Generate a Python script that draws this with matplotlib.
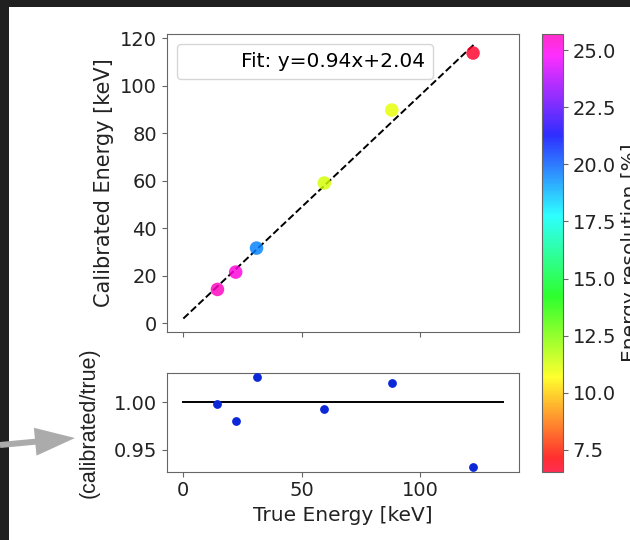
"""Energy calibration plot: calibrated vs true energy, ratio panel, resolution colorbar."""

import matplotlib
matplotlib.use("Agg")
import matplotlib.pyplot as plt
from matplotlib.patches import Rectangle, FancyArrow
import numpy as np

# values
true_energy = np.array([14.4, 22.1, 30.9, 59.5, 88.0, 122.3])
calibrated = np.array([14.3, 21.6, 31.7, 59.1, 89.8, 113.8])
ratio = np.array([0.998, 0.980, 1.027, 0.993, 1.0205, 0.932])
resolution = np.array([25.7, 25.3, 19.5, 11.3, 11.0, 6.55])

fit_slope, fit_icpt = 0.94, 2.04
fit_x = np.array([0.0, 122.5])
unity_x = np.array([0.0, 135.0])

plt.rcParams.update({
    "font.family": "DejaVu Sans",
    "font.size": 14,
    "axes.edgecolor": "#666666",
    "xtick.color": "#666666",
    "ytick.color": "#666666",
    "xtick.labelcolor": "#222222",
    "ytick.labelcolor": "#222222",
})

fig = plt.figure(figsize=(6.3, 5.4), dpi=100)

ax = fig.add_axes([0.2643, 0.3857, 0.5603, 0.5513])
axr = fig.add_axes([0.2643, 0.1265, 0.5603, 0.1833])
cax = fig.add_axes([0.8598, 0.1265, 0.0333, 0.8105])

sc = ax.scatter(true_energy, calibrated, c=resolution, cmap="gist_rainbow",
                vmin=resolution.min(), vmax=resolution.max(),
                s=95, alpha=0.82, edgecolors="none", zorder=3)
ax.plot(fit_x, fit_slope * fit_x + fit_icpt, "k--", lw=1.4, zorder=2)
ax.plot([], [], " ", label=f"Fit: y={fit_slope:.2f}x+{fit_icpt:.2f}")
ax.legend(loc="upper left", fontsize=14.5)
ax.set_xlim(-7.1, 141.9)
ax.set_ylim(-3.5, 121.8)
ax.set_yticks(range(0, 121, 20))
ax.set_xticks([0, 50, 100])
ax.tick_params(labelbottom=False)
ax.set_ylabel("Calibrated Energy [keV]", fontsize=15, color="#222222")

axr.scatter(true_energy, ratio, color="#0a28d8", s=28, zorder=3)
axr.plot(unity_x, np.ones_like(unity_x), color="black", lw=1.4)
axr.set_xlim(-7.1, 141.9)
axr.set_ylim(0.927, 1.031)
axr.set_xticks([0, 50, 100])
axr.set_yticks([0.95, 1.00])
axr.set_yticklabels(["0.95", "1.00"])
axr.set_xlabel("True Energy [keV]", fontsize=14.5, color="#222222")
axr.set_ylabel("(calibrated/true)", fontsize=15.5, color="#222222",
               family="Liberation Sans")
axr.yaxis.set_label_coords(-0.19, 0.5)

cb = fig.colorbar(sc, cax=cax)
cb.outline.set_edgecolor("#666666")
cb.set_label("Energy resolution [%]", fontsize=14.5, color="#222222", labelpad=4)

# screenshot frame: dark bands on top and left, plus the grey pointer arrow
fig.patches.append(Rectangle((0, 1 - 7 / 540), 1, 7 / 540, transform=fig.transFigure,
                             facecolor="#202020", edgecolor="none", zorder=0))
fig.patches.append(Rectangle((0, 0), 8.5 / 630, 1, transform=fig.transFigure,
                             facecolor="#202020", edgecolor="none", zorder=0))
fig.patches.append(FancyArrow(0.0, 0.95, 0.75, 0.07, width=0.06, head_width=0.28,
                              head_length=0.40, length_includes_head=True,
                              transform=fig.dpi_scale_trans,
                              facecolor="#ababab", edgecolor="none", zorder=1))

fig.savefig("out.png", dpi=100)
